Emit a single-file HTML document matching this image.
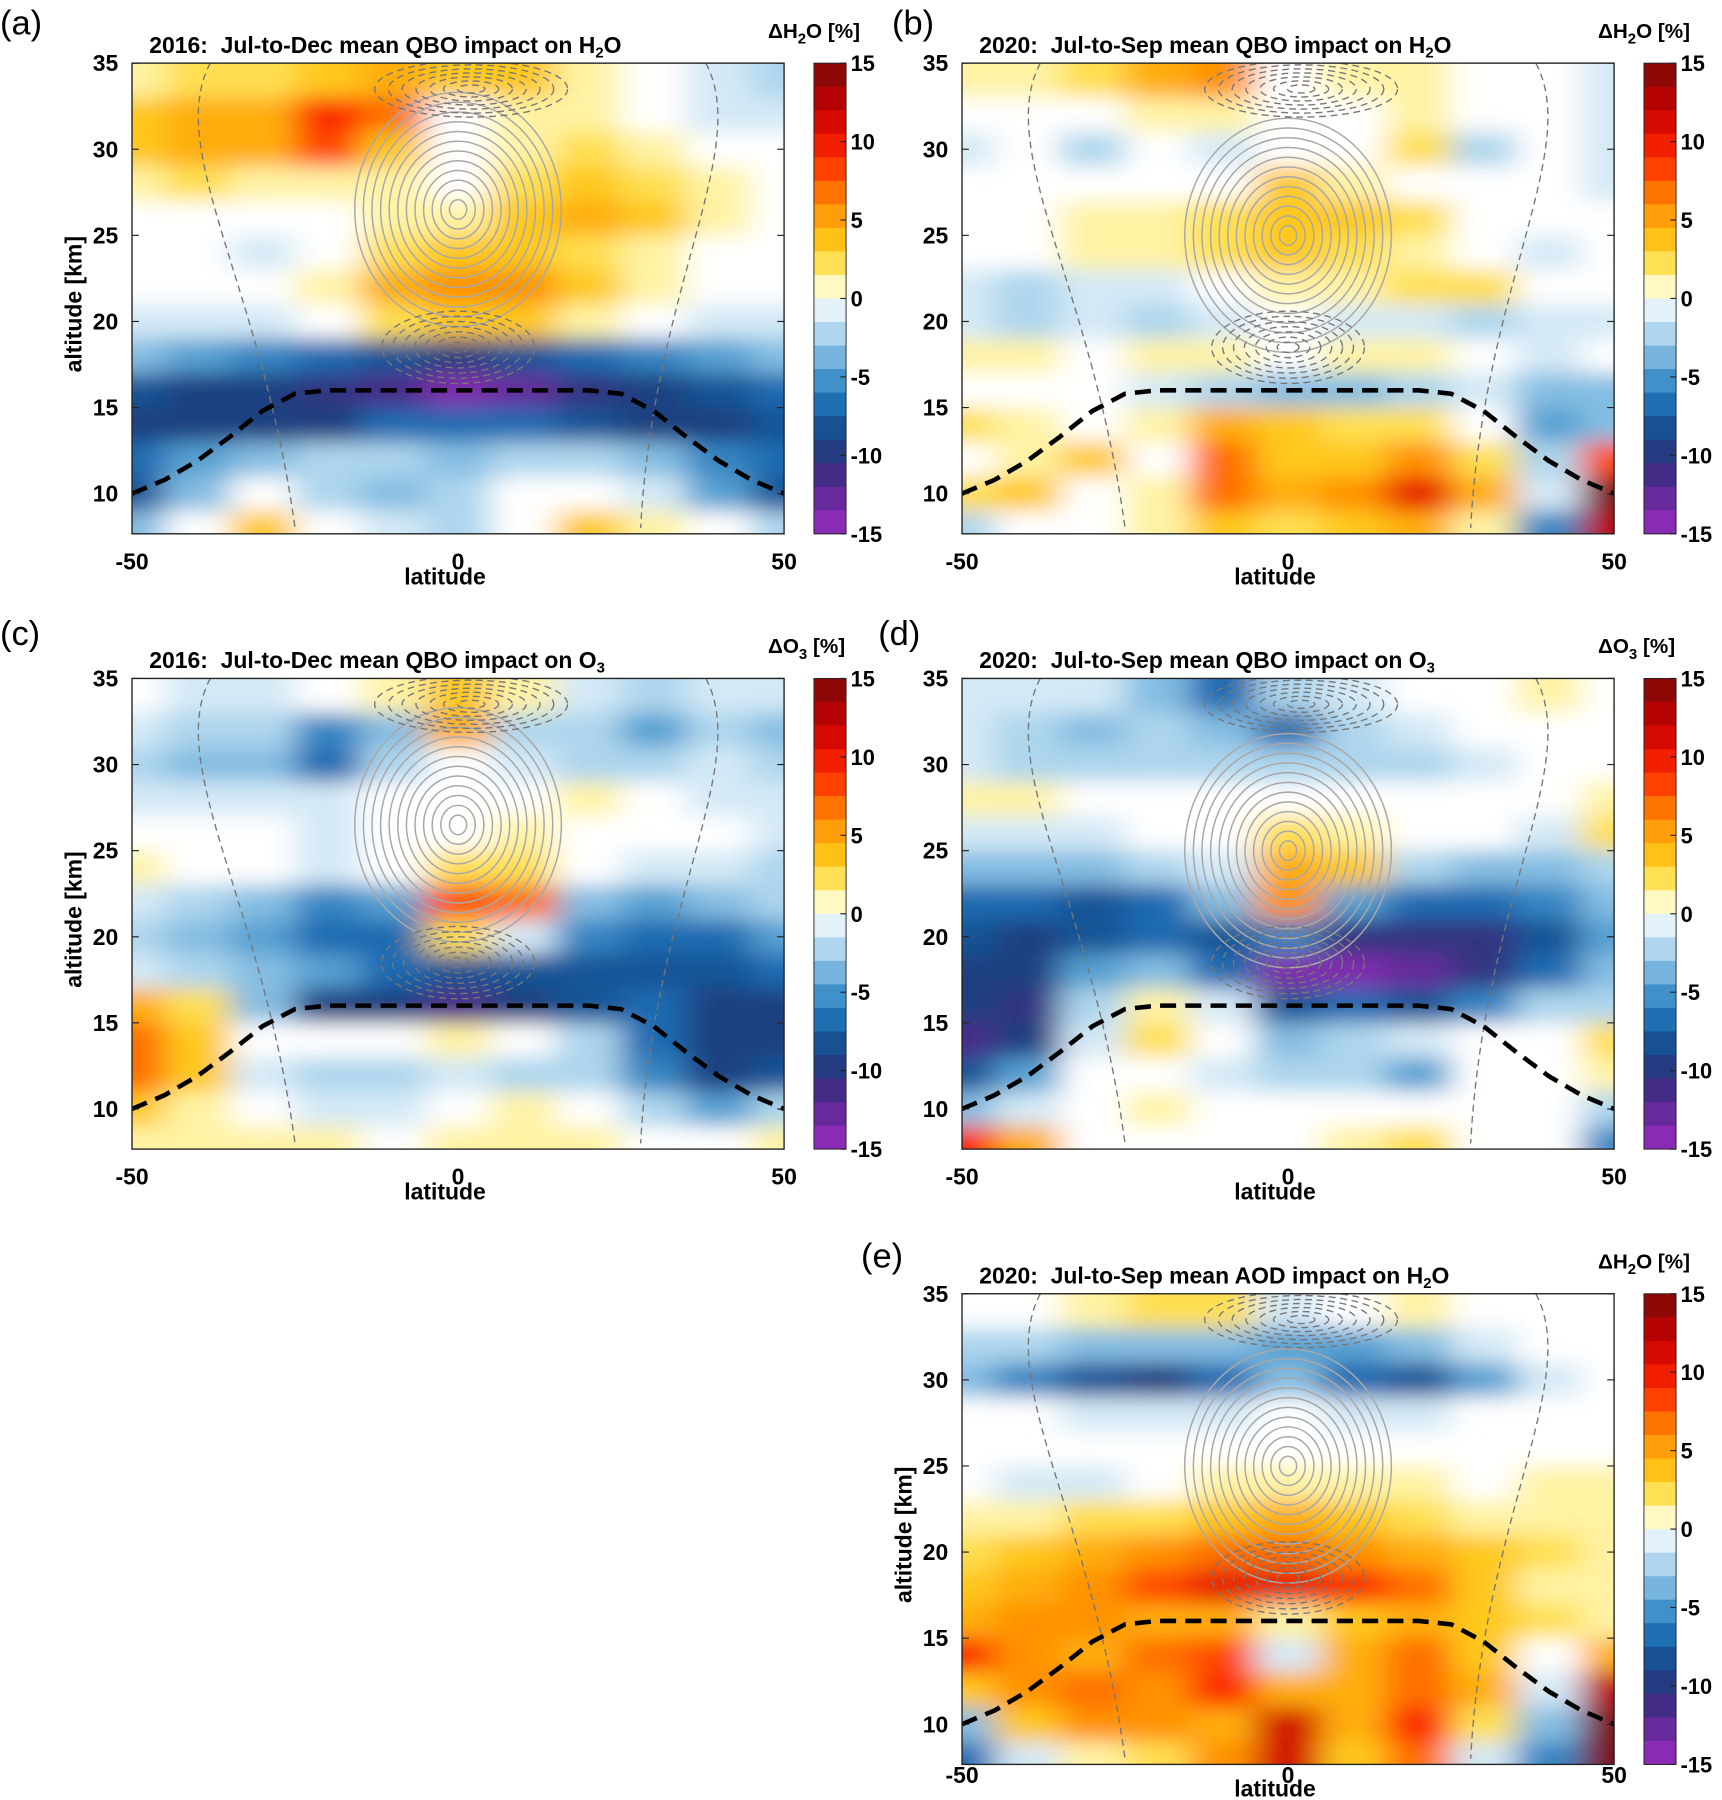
<!DOCTYPE html>
<html><head><meta charset="utf-8"><title>QBO / AOD impact on H2O and O3</title>
<style>
html,body{margin:0;padding:0;background:#fff}
svg{display:block}
text{font-family:"Liberation Sans",sans-serif;white-space:pre}
</style></head>
<body>
<svg id="fig" width="1722" height="1800" viewBox="0 0 1500 1568" preserveAspectRatio="none" xmlns="http://www.w3.org/2000/svg">
<defs>
<filter id="blur" x="-10%" y="-10%" width="120%" height="120%"><feGaussianBlur stdDeviation="14 9"/></filter>
</defs>
</svg>
<script>
// ---- shared axis data ----
const lats = [-50,-40,-30,-20,-10,0,10,20,30,40,50];
const alts = [34,32,30,28,26,24,22,20,18,16,14,12,10,8];
const yTicks = [10,15,20,25,30,35];
const xTicks = [-50,0,50];
const cbTicks = [15,10,5,0,-5,-10,-15];

// ---- panel (a) H2O 2016 QBO ----
const valuesA = [
[1,2,2,3,4,3,3,1,0,-1,-2],
[3,4,4,8,6,0,1,1,0,-1,-1],
[3,4,4,7,3,0,1,2,1,0,0],
[1,2,1,1,1,0,2,3,2,1,0],
[0,0,0,0,1,1,3,4,3,1,0],
[0,0,-1,0,2,3,3,2,1,0,0],
[0,0,0,1,4,5,5,3,1,0,0],
[-1,-1,-1,0,2,3,3,1,0,-1,-1],
[-3,-4,-5,-6,-7,-8,-7,-6,-5,-4,-3],
[-7,-8,-8,-9,-10,-12,-11,-9,-8,-7,-6],
[-8,-8,-8,-8,-6,-6,-6,-7,-8,-8,-7],
[-6,-4,-3,-2,-2,-3,-2,-2,-3,-5,-6],
[-7,-3,0,-2,-3,-2,0,0,-1,-4,-7],
[-3,0,3,0,-1,-2,0,3,1,0,-2]];
// ---- panel (b) H2O 2020 QBO ----
const valuesB = [
[1,1,2,4,5,0,1,1,0,0,-1],
[0,0,0,1,1,0,0,1,0,0,-1],
[-1,0,-2,0,-1,0,0,2,-2,0,-1],
[0,0,0,0,0,3,1,0,0,0,-1],
[0,0,1,1,2,3,3,2,0,0,0],
[0,0,1,1,2,3,2,1,0,-1,0],
[-1,-2,-1,-1,0,1,1,2,2,0,0],
[-1,-2,-1,-2,-1,0,-1,-1,-2,-1,-1],
[1,1,0,1,1,0,1,1,0,-1,0],
[0,0,0,-1,-2,-3,-3,-2,-1,-3,-3],
[2,1,0,1,4,3,2,2,0,-4,-3],
[0,1,3,0,6,3,3,5,2,-2,7],
[2,3,0,1,6,4,5,9,4,-1,14],
[-2,0,0,1,3,2,3,4,1,-5,11]];
// ---- panel (c) O3 2016 QBO ----
const valuesC = [
[0,-1,-1,0,1,3,1,-1,-2,-1,-1],
[-1,-2,-2,-5,-3,4,-2,-2,-4,-2,-3],
[-2,-3,-3,-6,-2,0,-1,-2,-2,-1,-2],
[-1,-1,-1,-1,0,0,0,1,0,-1,-1],
[0,0,0,-1,0,0,1,0,0,0,-1],
[1,0,0,-1,0,2,2,0,-1,-1,-2],
[-1,-2,-3,-5,-4,7,6,-3,-4,-3,-2],
[-2,-3,-4,-6,-6,2,-1,-5,-6,-6,-4],
[-1,-2,-3,-4,-6,-7,-7,-7,-7,-7,-6],
[4,2,-3,-8,-8,-10,-8,-7,-6,-8,-8],
[6,3,0,0,0,1,0,-2,-6,-8,-8],
[6,3,-1,-2,-2,-1,-2,-2,-5,-8,-7],
[3,1,0,-1,-1,0,1,0,-2,-4,-2],
[1,1,1,1,0,1,1,1,0,0,1]];
// ---- panel (d) O3 2020 QBO ----
const valuesD = [
[-1,-1,-1,-3,-6,-2,-1,0,0,1,0],
[-1,-2,-3,-2,-3,-6,-2,-1,0,0,0],
[-1,-2,-2,-2,-2,-2,-2,-2,-1,0,0],
[1,1,0,0,0,0,0,0,0,0,1],
[-1,-1,-1,0,0,2,1,0,0,-1,2],
[-3,-3,-3,-2,-1,4,3,-2,-3,-3,-2],
[-6,-6,-7,-6,-3,5,-4,-6,-6,-5,-3],
[-7,-8,-7,-6,-7,-5,-9,-9,-9,-7,-4],
[-8,-8,-4,-3,-6,-12,-12,-11,-9,-6,-3],
[-8,-9,-2,1,-1,-7,-6,-7,-5,-2,-2],
[-10,-8,-1,2,0,-3,-2,-1,0,0,2],
[-7,-4,0,0,-1,-2,-2,-4,0,0,1],
[-3,-1,0,1,0,0,0,0,0,0,-2],
[8,4,0,0,0,0,1,2,0,0,-5]];
// ---- panel (e) H2O 2020 AOD ----
const valuesE = [
[0,0,1,2,2,-1,0,1,0,0,0],
[-2,-2,-3,-3,-3,-4,-4,-3,-1,0,0],
[-3,-5,-7,-8,-6,-3,-6,-7,-4,-1,0],
[0,0,-1,-1,-1,0,-1,-1,0,0,0],
[0,0,0,0,0,0,0,0,0,0,0],
[0,-1,-1,0,1,1,1,1,0,1,1],
[1,1,2,2,3,4,3,2,1,1,1],
[2,3,4,5,6,6,5,4,3,2,1],
[3,4,5,7,9,9,8,6,3,1,1],
[4,5,5,4,4,1,3,4,3,2,1],
[8,5,4,6,7,-1,4,6,3,0,4],
[3,5,6,5,8,4,4,6,4,-1,11],
[-3,3,5,5,4,10,4,8,2,-3,15],
[-6,-1,1,2,5,10,3,6,-1,-5,13]];

// tropopause (dashed line) sample points
const tropoLats = [-50,-45,-40,-35,-30,-25,-20,0,20,25,30,35,40,45,50];
const tropoAlts = [10,10.8,11.9,13.3,14.8,15.8,16,16,16,15.8,14.8,13.3,11.9,10.8,10];

const panels = [
 {id:'a', letter:'(a)', lx:0, ly:30, title:['2016:  Jul-to-Dec mean QBO impact on H','2','O'], cb:['ΔH','2','O [%]'], x0:115, y0:55, data:valuesA, cy:26.5, ylab:true, tk:31, tl:44},
 {id:'b', letter:'(b)', lx:777, ly:30, title:['2020:  Jul-to-Sep mean QBO impact on H','2','O'], cb:['ΔH','2','O [%]'], x0:838, y0:55, data:valuesB, cy:25, ylab:false, tk:31, tl:44},
 {id:'c', letter:'(c)', lx:0, ly:562, title:['2016:  Jul-to-Dec mean QBO impact on O','3',''], cb:['ΔO','3',' [%]'], x0:115, y0:591, data:valuesC, cy:26.5, ylab:true, tk:31, tl:44},
 {id:'d', letter:'(d)', lx:765, ly:562, title:['2020:  Jul-to-Sep mean QBO impact on O','3',''], cb:['ΔO','3',' [%]'], x0:838, y0:591, data:valuesD, cy:25, ylab:false, tk:31, tl:44},
 {id:'e', letter:'(e)', lx:750, ly:1104, title:['2020:  Jul-to-Sep mean AOD impact on H','2','O'], cb:['ΔH','2','O [%]'], x0:838, y0:1127, data:valuesE, cy:25, ylab:true, tk:16, tl:28}
];
const W=568, H=410, AMIN=7.67, AMAX=35;

const stops=[[15,[122,10,10]],[12,[200,0,0]],[9,[255,40,0]],[6,[255,140,0]],[3,[255,210,30]],[1,[255,246,175]],[0,[255,255,255]],[-1,[217,236,247]],[-3,[150,200,232]],[-5,[70,150,205]],[-7,[25,105,175]],[-9,[22,66,128]],[-11,[60,45,130]],[-13,[110,40,160]],[-15,[155,45,195]]];
function color(v){
  v=Math.max(-15,Math.min(15,v));
  for(let i=0;i<stops.length-1;i++){
    const [a,ca]=stops[i],[b,cb]=stops[i+1];
    if(v<=a&&v>=b){const t=(a-v)/(a-b);
      return 'rgb('+ca.map((c,k)=>Math.round(c+(cb[k]-c)*t)).join(',')+')';}
  }
  return '#fff';
}
const NS='http://www.w3.org/2000/svg';
const svg=document.getElementById('fig');
const defs=svg.querySelector('defs');
function mk(tag,attrs,parent){const e=document.createElementNS(NS,tag);for(const k in attrs)e.setAttribute(k,attrs[k]);(parent||svg).appendChild(e);return e;}
function txt(str,attrs,parent){const e=mk('text',attrs,parent);e.textContent=str;return e;}

panels.forEach(p=>{
  const xs=lat=>p.x0+(lat+50)/100*W;
  const ys=alt=>p.y0+(AMAX-alt)/(AMAX-AMIN)*H;
  const g=mk('g',{});
  
  
  const cp=mk('clipPath',{id:'clip'+p.id},defs);
  mk('rect',{x:p.x0,y:p.y0,width:W,height:H},cp);
  const plot=mk('g',{'clip-path':'url(#clip'+p.id+')'},g);
  
  
  const hm=mk('g',{filter:'url(#blur)'},plot);
  const cw=W/10, ch=H/((AMAX-AMIN)/2);
  p.data.forEach((row,r)=>{
    row.forEach((v,c)=>{
      const cx=xs(lats[c]), cyy=ys(alts[r]);
      let w=cw, h=ch, x=cx-cw/2, y=cyy-ch/2;
      if(c===0){x-=cw;w+=cw;} if(c===lats.length-1){w+=cw;}
      if(r===0){y-=ch;h+=ch;} if(r===alts.length-1){h+=ch;}
      const cell=mk('rect',{x:x,y:y,width:w+0.5,height:h+0.5,fill:color(v*1.15)},hm);
      
      
    });
  });
  // simplified wind contours
  const cg=mk('g',{fill:'none',stroke:'#a8a8a8','stroke-width':1.3},plot);
  
  
  for(let k=1;k<=12;k++){
    mk('ellipse',{cx:xs(0),cy:ys(p.cy),rx:k*7.5,ry:k*8.5},cg);
  }
  const dg=mk('g',{fill:'none',stroke:'#777','stroke-width':1.2,'stroke-dasharray':'6 4'},plot);
  
  
  for(let k=1;k<=7;k++){
    mk('ellipse',{cx:xs(2),cy:ys(33.5),rx:k*12,ry:k*3.5},dg);
    mk('ellipse',{cx:xs(0),cy:ys(18.5),rx:k*9.5,ry:k*4.5},dg);
  }
  mk('path',{d:'M'+xs(-38)+' '+ys(35)+' C '+xs(-45)+' '+ys(30)+' '+xs(-30)+' '+ys(22)+' '+xs(-25)+' '+ys(8)},dg);
  mk('path',{d:'M'+xs(38)+' '+ys(35)+' C '+xs(45)+' '+ys(30)+' '+xs(30)+' '+ys(22)+' '+xs(28)+' '+ys(8)},dg);
  // tropopause
  const tp=mk('path',{d:tropoLats.map((l,i)=>(i?'L':'M')+xs(l).toFixed(1)+' '+ys(tropoAlts[i]).toFixed(1)).join(' '),fill:'none',stroke:'#000','stroke-width':4,'stroke-dasharray':'14 8'},plot);
  
  
  // frame
  mk('rect',{x:p.x0,y:p.y0,width:W,height:H,fill:'none',stroke:'#222','stroke-width':1.2},g);
  // ticks
  yTicks.forEach(t=>{
    mk('line',{x1:p.x0,x2:p.x0+6,y1:ys(t),y2:ys(t),stroke:'#222'},g);
    mk('line',{x1:p.x0+W,x2:p.x0+W-6,y1:ys(t),y2:ys(t),stroke:'#222'},g);
    const tl=txt(String(t),{x:p.x0-12,y:ys(t)+7,'text-anchor':'end','font-size':20,'font-weight':'bold'},g);
    
    
  });
  xTicks.forEach(t=>{
    const tl=txt(String(t),{x:xs(t),y:p.y0+H+p.tk,'text-anchor':'middle','font-size':20,'font-weight':'bold'},g);
    
    
  });
  const xl=txt('latitude',{x:xs(-2),y:p.y0+H+p.tl,'text-anchor':'middle','font-size':20,'font-weight':'bold'},g);
  
  
  if(p.ylab){
    const yl=txt('altitude [km]',{x:0,y:0,'text-anchor':'middle','font-size':20,'font-weight':'bold',transform:'translate('+(p.x0-44)+','+(p.y0+H/2+5)+') rotate(-90)'},g);
    
    
  }
  const lt=txt(p.letter,{x:p.lx,y:p.ly,'font-size':30},g);
  
  
  const ti=txt('',{x:p.x0+15,y:p.y0-9,'font-size':20,'font-weight':'bold'},g);
  
  
  mk('tspan',{},ti).textContent=p.title[0];
  mk('tspan',{'font-size':13,dy:4},ti).textContent=p.title[1];
  mk('tspan',{dy:-4},ti).textContent=p.title[2];
  // colorbar
  const cbx=p.x0+W+26, cbw=28;
  const cb=mk('g',{},g);
  
  
  const nb=20, bh=H/nb;
  for(let i=0;i<nb;i++){
    const v=15-(i+0.5)*30/nb;
    mk('rect',{x:cbx,y:p.y0+i*bh,width:cbw,height:bh+0.4,fill:color(v)},cb);
  }
  mk('rect',{x:cbx,y:p.y0,width:cbw,height:H,fill:'none',stroke:'#222','stroke-width':0.8},cb);
  cbTicks.forEach(t=>{
    const y=p.y0+(15-t)/30*H;
    mk('line',{x1:cbx+cbw-5,x2:cbx+cbw,y1:y,y2:y,stroke:'#222'},cb);
    txt(String(t),{x:cbx+cbw+4,y:y+7,'font-size':19,'font-weight':'bold'},cb);
  });
  const ct=txt('',{x:cbx-40,y:p.y0-22,'font-size':18,'font-weight':'bold'},g);
  
  
  mk('tspan',{},ct).textContent=p.cb[0];
  mk('tspan',{'font-size':13,dy:5},ct).textContent=p.cb[1];
  mk('tspan',{dy:-5},ct).textContent=p.cb[2];
});
</script>
</body></html>
